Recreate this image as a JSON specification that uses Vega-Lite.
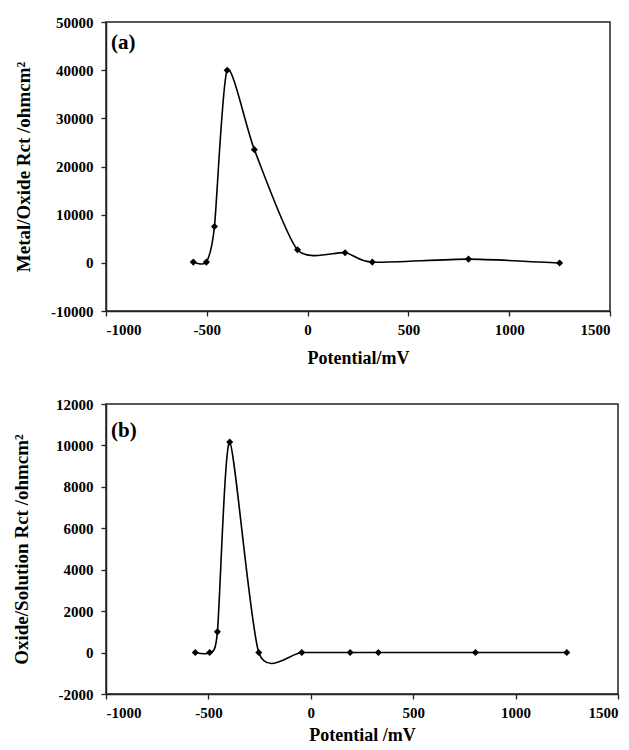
{
  "$schema": "https://vega.github.io/schema/vega-lite/v6.json",
  "padding": {"left": 11, "top": 14, "right": 5, "bottom": 0},
  "background": "white",
  "datasets": {
    "a": [
      {"potential": -567, "rct": 150},
      {"potential": -502, "rct": 150},
      {"potential": -462, "rct": 7550},
      {"potential": -399, "rct": 40000},
      {"potential": -264, "rct": 23500},
      {"potential": -50, "rct": 2700},
      {"potential": 186, "rct": 2100},
      {"potential": 321, "rct": 150},
      {"potential": 798, "rct": 770},
      {"potential": 1250, "rct": -50}
    ],
    "b": [
      {"potential": -564, "rct": 0},
      {"potential": -494, "rct": 0},
      {"potential": -456, "rct": 1000},
      {"potential": -396, "rct": 10160},
      {"potential": -254, "rct": 0},
      {"potential": -44, "rct": 0},
      {"potential": 192, "rct": 0},
      {"potential": 330, "rct": 0},
      {"potential": 804, "rct": 0},
      {"potential": 1250, "rct": 0}
    ],
    "la": [{"potential": -975, "rct": 45600, "label": "(a)"}],
    "lb": [{"potential": -975, "rct": 10700, "label": "(b)"}]
  },
  "config": {
    "font": "Liberation Serif",
    "view": {"stroke": "#222222", "strokeWidth": 1.5},
    "axis": {
      "grid": false,
      "domainColor": "#222222",
      "domainWidth": 1.5,
      "tickColor": "#222222",
      "tickWidth": 1.3,
      "tickSize": 5,
      "labelColor": "black",
      "labelFont": "Liberation Serif",
      "labelFontWeight": "bold",
      "labelFontSize": 15,
      "labelPadding": 6,
      "labelExpr": "replace(datum.label, '−', '-')",
      "titleColor": "black",
      "titleFont": "Liberation Serif",
      "titleFontWeight": "bold",
      "titleFontSize": 18
    }
  },
  "spacing": 28,
  "vconcat": [
    {
      "width": 504,
      "height": 289,
      "layer": [
        {
          "data": {"name": "a"},
          "mark": {"type": "line", "interpolate": "cardinal", "tension": 0.3, "color": "black", "strokeWidth": 1.6},
          "encoding": {
            "x": {"field": "potential", "type": "quantitative", "scale": {"domain": [-1000, 1500], "nice": false}, "axis": {"values": [-1000, -500, 0, 500, 1000, 1500], "title": "Potential/mV", "format": "d", "titlePadding": 12}},
            "y": {"field": "rct", "type": "quantitative", "scale": {"domain": [-10000, 50000], "nice": false}, "axis": {"values": [-10000, 0, 10000, 20000, 30000, 40000, 50000], "title": "Metal/Oxide Rct /ohmcm²", "format": "d", "labelPadding": 8, "titlePadding": 17, "titleFontSize": 19}}
          }
        },
        {
          "data": {"name": "a"},
          "mark": {"type": "point", "shape": "diamond", "filled": true, "color": "black", "size": 50, "opacity": 1},
          "encoding": {
            "x": {"field": "potential", "type": "quantitative"},
            "y": {"field": "rct", "type": "quantitative"}
          }
        },
        {
          "data": {"name": "la"},
          "mark": {"type": "text", "align": "left", "baseline": "middle", "fontSize": 21, "fontWeight": "bold", "font": "Liberation Serif", "color": "black"},
          "encoding": {
            "x": {"field": "potential", "type": "quantitative"},
            "y": {"field": "rct", "type": "quantitative"},
            "text": {"field": "label"}
          }
        }
      ]
    },
    {
      "width": 512,
      "height": 290,
      "layer": [
        {
          "data": {"name": "b"},
          "mark": {"type": "line", "interpolate": "cardinal", "tension": 0.3, "color": "black", "strokeWidth": 1.6},
          "encoding": {
            "x": {"field": "potential", "type": "quantitative", "scale": {"domain": [-1000, 1500], "nice": false}, "axis": {"values": [-1000, -500, 0, 500, 1000, 1500], "title": "Potential /mV", "format": "d", "titlePadding": 6}},
            "y": {"field": "rct", "type": "quantitative", "scale": {"domain": [-2000, 12000], "nice": false}, "axis": {"values": [-2000, 0, 2000, 4000, 6000, 8000, 10000, 12000], "title": "Oxide/Solution Rct  /ohmcm²", "format": "d", "labelPadding": 8, "titlePadding": 24, "titleFontSize": 19}}
          }
        },
        {
          "data": {"name": "b"},
          "mark": {"type": "point", "shape": "diamond", "filled": true, "color": "black", "size": 50, "opacity": 1},
          "encoding": {
            "x": {"field": "potential", "type": "quantitative"},
            "y": {"field": "rct", "type": "quantitative"}
          }
        },
        {
          "data": {"name": "lb"},
          "mark": {"type": "text", "align": "left", "baseline": "middle", "fontSize": 21, "fontWeight": "bold", "font": "Liberation Serif", "color": "black"},
          "encoding": {
            "x": {"field": "potential", "type": "quantitative"},
            "y": {"field": "rct", "type": "quantitative"},
            "text": {"field": "label"}
          }
        }
      ]
    }
  ]
}
